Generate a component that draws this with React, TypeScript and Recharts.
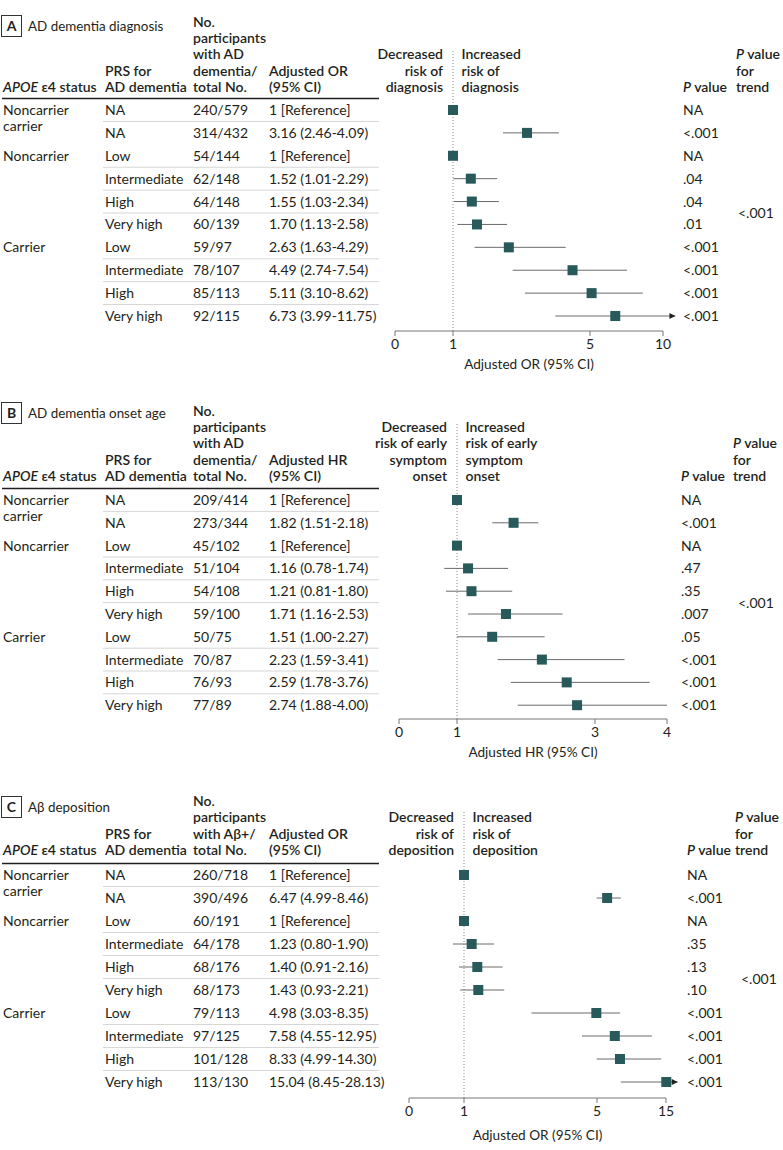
import React from 'react';
import { ScatterChart, Scatter, XAxis, YAxis, ReferenceLine, ErrorBar } from 'recharts';

const FONT = 'Lato, "Open Sans", sans-serif';
const INK = '#231f20';
const MARK = '#285a5b';
const CI = '#6b6b6b';
const AXIS = '#777777';

// shared row labels
const apoeGroups = ['Noncarrier|carrier', '', 'Noncarrier', '', '', '', 'Carrier', '', '', ''];
const prsLevels = ['NA', 'NA', 'Low', 'Intermediate', 'High', 'Very high', 'Low', 'Intermediate', 'High', 'Very high'];
const separatorTicks = [1.5, 3.5, 4.5, 5.5, 7.5, 8.5, 9.5];

// Panel A: AD dementia diagnosis
const aTicks = [0, 1, 5, 10];
const aCounts = ['240/579', '314/432', '54/144', '62/148', '64/148', '60/139', '59/97', '78/107', '85/113', '92/115'];
const aEst = [1, 3.16, 1, 1.52, 1.55, 1.7, 2.63, 4.49, 5.11, 6.73];
const aLow = [null, 2.46, null, 1.01, 1.03, 1.13, 1.63, 2.74, 3.1, 3.99];
const aHigh = [null, 4.09, null, 2.29, 2.34, 2.58, 4.29, 7.54, 8.62, 11.75];
const aP = ['NA', '<.001', 'NA', '.04', '.04', '.01', '<.001', '<.001', '<.001', '<.001'];
const aTrend = '<.001';

// Panel B: AD dementia onset age
const bTicks = [0, 1, 3, 4];
const bCounts = ['209/414', '273/344', '45/102', '51/104', '54/108', '59/100', '50/75', '70/87', '76/93', '77/89'];
const bEst = [1, 1.82, 1, 1.16, 1.21, 1.71, 1.51, 2.23, 2.59, 2.74];
const bLow = [null, 1.51, null, 0.78, 0.81, 1.16, 1.0, 1.59, 1.78, 1.88];
const bHigh = [null, 2.18, null, 1.74, 1.8, 2.53, 2.27, 3.41, 3.76, 4.0];
const bP = ['NA', '<.001', 'NA', '.47', '.35', '.007', '.05', '<.001', '<.001', '<.001'];
const bTrend = '<.001';

// Panel C: Abeta deposition
const cTicks = [0, 1, 5, 15];
const cCounts = ['260/718', '390/496', '60/191', '64/178', '68/176', '68/173', '79/113', '97/125', '101/128', '113/130'];
const cEst = [1, 6.47, 1, 1.23, 1.4, 1.43, 4.98, 7.58, 8.33, 15.04];
const cLow = [null, 4.99, null, 0.8, 0.91, 0.93, 3.03, 4.55, 4.99, 8.45];
const cHigh = [null, 8.46, null, 1.9, 2.16, 2.21, 8.35, 12.95, 14.3, 28.13];
const cP = ['NA', '<.001', 'NA', '.35', '.13', '.10', '<.001', '<.001', '<.001', '<.001'];
const cTrend = '<.001';

type PanelCfg = {
  letter: string; title: string; countHead: string[]; estHead: string[];
  decHead: string[]; incHead: string[]; axisLabel: string;
  ticks: number[]; seg: number[]; cap: number;
  counts: string[]; est: number[]; lo: (number | null)[]; hi: (number | null)[]; p: string[]; trend: string;
  top: number; height: number; x0: number; dotTop: number; row1: number; rowGap: number; axisY: number;
  headBottom: number; titleY: number; axisLabelY: number; pX: number; trendHeadX: number; trendX: number;
};

const panels: PanelCfg[] = [
  {
    letter: 'A', title: 'AD dementia diagnosis',
    countHead: ['No.', 'participants', 'with AD', 'dementia/', 'total No.'],
    estHead: ['Adjusted OR', '(95% CI)'],
    decHead: ['Decreased', 'risk of', 'diagnosis'], incHead: ['Increased', 'risk of', 'diagnosis'],
    axisLabel: 'Adjusted OR (95% CI)',
    ticks: aTicks, seg: [58, 137, 73], cap: 10.85,
    counts: aCounts, est: aEst, lo: aLow, hi: aHigh, p: aP, trend: aTrend,
    top: 0, height: 385, x0: 395, dotTop: 50, row1: 110, rowGap: 22.89, axisY: 331,
    headBottom: 87, titleY: 26, axisLabelY: 364, pX: 683, trendHeadX: 736, trendX: 738,
  },
  {
    letter: 'B', title: 'AD dementia onset age',
    countHead: ['No.', 'participants', 'with AD', 'dementia/', 'total No.'],
    estHead: ['Adjusted HR', '(95% CI)'],
    decHead: ['Decreased', 'risk of early', 'symptom', 'onset'], incHead: ['Increased', 'risk of early', 'symptom', 'onset'],
    axisLabel: 'Adjusted HR (95% CI)',
    ticks: bTicks, seg: [58, 138, 72], cap: 4,
    counts: bCounts, est: bEst, lo: bLow, hi: bHigh, p: bP, trend: bTrend,
    top: 385, height: 385, x0: 399, dotTop: 37, row1: 115, rowGap: 22.8, axisY: 334,
    headBottom: 91, titleY: 28, axisLabelY: 367, pX: 681, trendHeadX: 733, trendX: 738,
  },
  {
    letter: 'C', title: 'Aβ deposition',
    countHead: ['No.', 'participants', 'with Aβ+/', 'total No.'],
    estHead: ['Adjusted OR', '(95% CI)'],
    decHead: ['Decreased', 'risk of', 'deposition'], incHead: ['Increased', 'risk of', 'deposition'],
    axisLabel: 'Adjusted OR (95% CI)',
    ticks: cTicks, seg: [55, 133, 69], cap: 16.7,
    counts: cCounts, est: cEst, lo: cLow, hi: cHigh, p: cP, trend: cTrend,
    top: 770, height: 380, x0: 409, dotTop: 42, row1: 105, rowGap: 23.0, axisY: 328,
    headBottom: 80, titleY: 37, axisLabelY: 365, pX: 687, trendHeadX: 735, trendX: 741,
  },
];

// piecewise-linear (broken) axis scale used by the forest plots
function makeScale(breaks: number[], seg: number[]) {
  const cum = [0];
  seg.forEach((s, i) => cum.push(cum[i] + s));
  return (v: number) => {
    let i = 0;
    while (i < breaks.length - 2 && v > breaks[i + 1]) i++;
    return cum[i] + ((v - breaks[i]) / (breaks[i + 1] - breaks[i])) * seg[i];
  };
}

const LINE = 16.3;

function HeadLines({ x, bottom, lines, anchor = 'start', weight = 600 }: any) {
  const n = lines.length;
  return (
    <text x={x} textAnchor={anchor} fontWeight={weight}>
      {lines.map((l: string, k: number) => (
        <tspan key={k} x={x} y={bottom - (n - 1 - k) * LINE + 5}>{l}</tspan>
      ))}
    </text>
  );
}

function fmt(e: number, lo: number | null, hi: number | null) {
  if (lo == null || hi == null) return '1 [Reference]';
  return `${e.toFixed(2)} (${lo.toFixed(2)}-${hi.toFixed(2)})`;
}

function Panel({ p }: { p: PanelCfg }) {
  const T = makeScale(p.ticks, p.seg);
  const sp = p.rowGap;
  const yMin = 1 - (p.row1 - p.dotTop) / sp;
  const yMax = 1 + (p.axisY - p.row1) / sp;
  const xMax = T(p.cap);
  const plotRight = p.x0 + xMax;
  const lastTick = p.ticks[p.ticks.length - 1];
  const trendRow = (1 + p.est.length) / 2;

  const rows = p.est.map((e, i) => {
    const lo = p.lo[i] ?? e;
    const hi = Math.min(p.hi[i] ?? e, p.cap);
    return { row: i + 1, x: T(e), err: [T(e) - T(lo), T(hi) - T(e)] };
  });
  const arrows = p.hi
    .map((h, i) => (h != null && h > p.cap ? { row: i + 1, x: T(p.cap) } : null))
    .filter(Boolean) as any[];

  const yTicks = [0.5];
  for (let r = 1; r <= p.est.length; r++) yTicks.push(r);
  separatorTicks.forEach((s) => yTicks.push(s));
  yTicks.sort((a, b) => a - b);

  const rowTick = (props: any) => {
    const { y, payload } = props;
    const v = payload.value;
    if (v === 0.5) {
      return <line x1={2} x2={379} y1={y} y2={y} stroke={INK} strokeWidth={1.5} />;
    }
    if (Number.isInteger(v)) {
      const i = v - 1;
      const grp = apoeGroups[i].split('|');
      return (
        <g fontFamily={FONT} fontSize={14} fill={INK}>
          {grp[0] && (
            <text x={3} y={y + 5}>
              {grp.map((g, k) => (
                <tspan key={k} x={3} y={y + 5 + k * LINE}>{g}</tspan>
              ))}
            </text>
          )}
          <text x={105} y={y + 5}>{prsLevels[i]}</text>
          <text x={193} y={y + 5}>{p.counts[i]}</text>
          <text x={269} y={y + 5}>{fmt(p.est[i], p.lo[i], p.hi[i])}</text>
          <text x={p.pX} y={y + 5}>{p.p[i]}</text>
        </g>
      );
    }
    return (
      <g fontFamily={FONT} fontSize={14} fill={INK}>
        {separatorTicks.includes(v) && <line x1={103} x2={379} y1={y} y2={y} stroke="#d6d6d6" strokeWidth={1} />}
        {v === trendRow && <text x={p.trendX} y={y + 5}>{p.trend}</text>}
      </g>
    );
  };

  const square = (s: any) => <rect x={s.cx - 5} y={s.cy - 5} width={10} height={10} fill={MARK} />;
  const arrowHead = (s: any) => (
    <polygon points={`${s.cx},${s.cy} ${s.cx - 6},${s.cy - 3} ${s.cx - 6},${s.cy + 3}`} fill={INK} />
  );

  return (
    <div style={{ position: 'absolute', left: 0, top: p.top, width: 783, height: p.height }}>
      <ScatterChart
        width={783}
        height={p.height}
        margin={{ top: p.dotTop, right: 783 - plotRight, bottom: 0, left: 0 }}
        style={{ fontFamily: FONT }}
      >
        <XAxis
          type="number"
          dataKey="x"
          domain={[0, xMax]}
          allowDataOverflow
          ticks={p.ticks.map(T)}
          interval={0}
          tickFormatter={(_v: number, idx: number) => String(p.ticks[idx])}
          axisLine={false}
          tickLine={{ stroke: AXIS }}
          tickSize={5}
          tickMargin={3}
          height={p.height - p.axisY}
          tick={{ fontSize: 14, fill: INK, fontFamily: FONT }}
        />
        <YAxis
          type="number"
          dataKey="row"
          domain={[yMin, yMax]}
          reversed
          allowDataOverflow
          width={p.x0}
          ticks={yTicks}
          interval={0}
          axisLine={false}
          tickLine={false}
          tick={rowTick}
        />
        <ReferenceLine x={T(1)} stroke="#8a8a8a" strokeDasharray="1 2" />
        <ReferenceLine segment={[{ x: 0, y: yMax }, { x: T(lastTick), y: yMax }]} stroke={AXIS} strokeWidth={1} />
        <Scatter data={rows} shape={square} isAnimationActive={false}>
          <ErrorBar dataKey="err" direction="x" width={0} stroke={CI} strokeWidth={1} />
        </Scatter>
        <Scatter data={arrows} shape={arrowHead} isAnimationActive={false} />
      </ScatterChart>
      <svg
        width={783}
        height={p.height}
        style={{ position: 'absolute', left: 0, top: 0, pointerEvents: 'none' }}
        fontFamily={FONT}
        fontSize={14}
        fill={INK}
      >
        <rect x={1.5} y={p.titleY - 10.5} width={20} height={21} fill="none" stroke="#333" strokeWidth={1} />
        <text x={11.5} y={p.titleY + 5} textAnchor="middle" fontWeight={700}>{p.letter}</text>
        <text x={28} y={p.titleY + 5} fontSize={13.4}>{p.title}</text>
        <text x={3} y={p.headBottom + 5} fontWeight={600}>
          <tspan fontStyle="italic">APOE</tspan> ε4 status
        </text>
        <HeadLines x={105} bottom={p.headBottom} lines={['PRS for', 'AD dementia']} />
        <HeadLines x={193} bottom={p.headBottom} lines={p.countHead} />
        <HeadLines x={269} bottom={p.headBottom} lines={p.estHead} />
        <HeadLines x={p.x0 + T(1) - 10} bottom={p.headBottom} lines={p.decHead} anchor="end" />
        <HeadLines x={p.x0 + T(1) + 8.5} bottom={p.headBottom} lines={p.incHead} />
        <text x={p.pX} y={p.headBottom + 5} fontWeight={600}>
          <tspan fontStyle="italic">P</tspan> value
        </text>
        <text x={p.trendHeadX} fontWeight={600}>
          <tspan x={p.trendHeadX} y={p.headBottom - 2 * LINE + 5}><tspan fontStyle="italic">P</tspan> value</tspan>
          <tspan x={p.trendHeadX} y={p.headBottom - LINE + 5}>for</tspan>
          <tspan x={p.trendHeadX} y={p.headBottom + 5}>trend</tspan>
        </text>
        <text x={p.x0 + T(lastTick) / 2} y={p.axisLabelY + 5} textAnchor="middle" fontSize={13.6}>{p.axisLabel}</text>
      </svg>
    </div>
  );
}

export default function App() {
  return (
    <div style={{ position: 'absolute', left: 0, top: 0, width: 783, height: 1150, background: '#fff', fontFamily: FONT }}>
      {panels.map((p) => (
        <Panel key={p.letter} p={p} />
      ))}
    </div>
  );
}
